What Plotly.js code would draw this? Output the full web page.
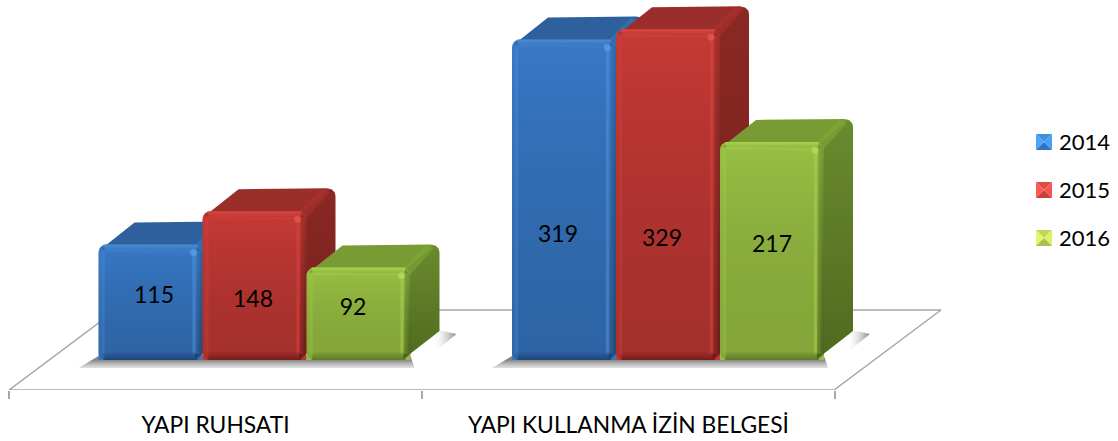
<!DOCTYPE html>
<html><head><meta charset="utf-8">
<script src="https://cdn.plot.ly/plotly-3.0.1.min.js"></script>
<style>html,body{margin:0;padding:0;background:#fff}</style></head>
<body><div id="chart" style="width:1118px;height:441px"></div>
<script>
// ---- data ----
const categories = ["YAPI RUHSATI", "YAPI KULLANMA İZİN BELGESİ"];
const years = ["2014", "2015", "2016"];
const values2014 = [115, 319];
const values2015 = [148, 329];
const values2016 = [92, 217];

// ---- styling / layout constants ----
const seriesValues = [values2014, values2015, values2016];
const W = 1118, H = 441, FLOOR_PY = 390, BASE_PY = 360;
const SX = 413, SY = 1.005, X0 = 9;
const BAR_W = 104, DX = 29, DY = 23, R = 8;
const FIRST_BAR_PX = [98.5, 512];
const labelPx = [[[154,297],[558,236]],[[253,301],[662,240]],[[353,309],[772,246]]];
const C = [
 {base:'#3675c1', hiT:'rgba(80,150,228,0.8)', hiS:'rgba(80,150,228,0.55)', lo:'rgba(22,55,100,0.7)', top:'#2e609d', band:'rgba(60,120,190,0.55)', side0:'#2d5f9b', side1:'#254f82', spot:'#6fb4f7', gt:'rgba(60,130,215,0.25)', gb:'rgba(0,0,0,0.14)'},
 {base:'#c03833', hiT:'rgba(235,72,68,0.8)', hiS:'rgba(220,68,64,0.55)', lo:'rgba(95,18,16,0.65)', top:'#9a2e2a', band:'rgba(175,50,46,0.55)', side0:'#8a2824', side1:'#76201c', spot:'#f06a64', gt:'rgba(215,62,58,0.25)', gb:'rgba(0,0,0,0.14)'},
 {base:'#96bd42', hiT:'rgba(175,220,80,0.85)', hiS:'rgba(165,210,75,0.6)', lo:'rgba(70,100,25,0.65)', top:'#789b34', band:'rgba(130,170,58,0.55)', side0:'#6a8b2e', side1:'#4f6a20', spot:'#c6ee6a', gt:'rgba(160,200,72,0.25)', gb:'rgba(0,0,0,0.12)'}
];
const swatch = [
 {t:'#3f8ee0', l:'#4ea4fa', r:'#48a0f5', b:'#2f74c4'},
 {t:'#e04b46', l:'#ff5a54', r:'#f5544e', b:'#c9403b'},
 {t:'#bcd858', l:'#e4f56c', r:'#dff068', b:'#a6c24a'}
];
const clear = c => c.replace(/,[^,]*\)$/, ',0)');

// pixel <-> data helpers, all marks pass through the axes
const ux = p => (p - X0) / SX;
const vy = p => (BASE_PY - p) / SY;
const poly = pts => ({x: pts.map(p => ux(p[0])), y: pts.map(p => vy(p[1]))});
function arc(cx, cy, r, a0, a1) {
  const out = [];
  for (let i = 0; i <= 6; i++) { const a = (a0 + (a1 - a0) * i / 6) * Math.PI / 180;
    out.push([cx + r * Math.cos(a), cy - r * Math.sin(a)]); }
  return out;
}
function roundRect(l, t, r, b, c) {
  return [].concat(arc(r-c,t+c,c,90,0), arc(r-c,b-c,c,0,-90), arc(l+c,b-c,c,-90,-180), arc(l+c,t+c,c,180,90));
}
function fillTrace(pts, axis, color, grad) {
  const d = poly(pts.concat([pts[0]]));
  const t = {type:'scatter', mode:'lines', x:d.x, y:d.y, xaxis:axis[0], yaxis:axis[1],
    line:{width:0}, fill:'toself', hoverinfo:'skip', showlegend:false};
  if (grad) t.fillgradient = grad; else t.fillcolor = color;
  return t;
}
const vGrad = (pyA, cA, pyB, cB) => ({type:'vertical', start:vy(pyB), stop:vy(pyA), colorscale:[[0,cB],[1,cA]]});
// the horizontal fill gradient runs from the stop colour at start to the first colour at stop
const hGrad = (pxA, cA, pxB, cB) => ({type:'horizontal', start:ux(pxA), stop:ux(pxB), colorscale:[[0,cB],[1,cA]]});

const traces = [];
const base = ['x','y'];
// floor
const fl = poly([[X0,FLOOR_PY],[834,FLOOR_PY],[941,310],[116,310],[X0,FLOOR_PY]]);
traces.push({type:'scatter', mode:'lines', x:fl.x, y:fl.y, line:{color:'#a6a6a6', width:1.5},
  hoverinfo:'skip', showlegend:false, cliponaxis:false});
// soft shadows on the floor
FIRST_BAR_PX.forEach(l0 => {
  const r0 = l0 + 3 * BAR_W;
  traces.push(fillTrace([[l0-20,BASE_PY+8],[l0,BASE_PY-4],[r0,BASE_PY-4],[r0+4,BASE_PY+8]], base, null,
    vGrad(BASE_PY, 'rgba(125,125,125,0.95)', BASE_PY+9, 'rgba(205,205,205,0.45)')));
  traces.push(fillTrace([[r0-6,BASE_PY+8],[r0+4,BASE_PY+8],[r0+46,BASE_PY-26],[r0+28,BASE_PY-30]], base, null,
    hGrad(r0+24, 'rgba(120,120,120,0.9)', r0+46, 'rgba(235,235,235,0)')));
});

// bars, one overlaid subplot per year so that later years sit in front
seriesValues.forEach((vals, s) => {
  const n = s + 2, ax = ['x'+n, 'y'+n], c = C[s];
  const lefts = vals.map((v, i) => FIRST_BAR_PX[i] + s * BAR_W);
  traces.push({type:'bar', name:years[s], x:lefts.map(l => ux(l + BAR_W/2)), y:vals,
    width:BAR_W/SX, xaxis:ax[0], yaxis:ax[1], customdata:categories,
    hovertemplate:'%{customdata}<br>'+years[s]+': %{y}<extra></extra>',
    marker:{color:c.base, cornerradius:R, line:{width:0}}});
  vals.forEach((v, i) => {
    const L = lefts[i], Rt = L + BAR_W, T = BASE_PY - v * SY, B = BASE_PY;
    // top face
    traces.push(fillTrace(
      [[L+2,T+5],[L+DX+7,T-DY+1]].concat(arc(Rt+DX-9,T-DY+9,9,90,30),[[Rt+DX-4,T+6],[Rt-4,T+6]]),
      ax, c.top));
    // side face
    traces.push(fillTrace(
      [[Rt-6,T+3],[Rt+DX-8,T-DY+3]].concat(arc(Rt+DX-8,T-DY+8,8,60,0),[[Rt+DX,B-29],[Rt-7,B-1]]),
      ax, null, vGrad(T-DY, c.side0, B, c.side1)));
    // rounded edge running back from the front corner
    traces.push(fillTrace([[Rt-8,T+1],[Rt+DX-14,T-DY+1],[Rt+DX-6,T-DY+4],[Rt,T+7]], ax, c.band));
    // front shading
    traces.push(fillTrace(roundRect(L,T,Rt,B,R), ax, null, vGrad(T, c.gt, B, c.gb)));
    traces.push(fillTrace([[L+5,T],[Rt-5,T],[Rt-7,T+9],[L+7,T+9]], ax, null, vGrad(T, c.hiT, T+9, clear(c.hiT))));
    traces.push(fillTrace([[Rt,T+5],[Rt,B-5],[Rt-10,B-7],[Rt-10,T+8]], ax, null, hGrad(Rt-10, clear(c.hiS), Rt, c.hiS)));
    traces.push(fillTrace([[L,T+5],[L,B-5],[L+6,B-7],[L+6,T+7]], ax, null, hGrad(L, clear(c.hiS).replace(',0)',',0.35)'), L+6, clear(c.hiS))));
    traces.push(fillTrace([[L+5,B],[Rt-5,B],[Rt-7,B-9],[L+7,B-9]], ax, null, vGrad(B-9, clear(c.lo), B, c.lo)));
    traces.push({type:'scatter', mode:'markers', x:[ux(Rt-9)], y:[vy(T+8)], xaxis:ax[0], yaxis:ax[1],
      marker:{size:7, color:c.spot, opacity:0.45, line:{width:0}}, hoverinfo:'skip', showlegend:false});
  });
  // value labels
  traces.push({type:'scatter', mode:'text', x:labelPx[s].map(p => ux(p[0])), y:labelPx[s].map(p => vy(p[1])),
    text:vals.map(String), textposition:'middle center', textfont:{family:'Lato', size:23, color:'#000'},
    xaxis:ax[0], yaxis:ax[1], hoverinfo:'skip', showlegend:false});
});

const xr = [ux(0), ux(W)], yr = [vy(FLOOR_PY), vy(0)];
const hidden = o => ({range:o, visible:false, fixedrange:true});
const layout = {
  width:W, height:H, margin:{l:0,r:0,t:0,b:H-FLOOR_PY}, paper_bgcolor:'#fff', plot_bgcolor:'rgba(0,0,0,0)',
  showlegend:false, hovermode:'closest', font:{family:'Lato', color:'#000'},
  xaxis:{range:xr, fixedrange:true, showgrid:false, zeroline:false, showline:false, tickmode:'array',
    tickvals:[0.5,1.5], ticktext:categories, ticks:'', ticklabelstandoff:19, tickfont:{family:'Lato', size:22.8, color:'#000'},
    minor:{tickmode:'array', tickvals:[0,1,2], ticks:'outside', ticklen:8, tickcolor:'#a6a6a6', tickwidth:1.5, showgrid:false}},
  yaxis:{range:yr, visible:false, fixedrange:true},
  annotations:[], shapes:[]
};
[2,3,4].forEach(n => {
  layout['xaxis'+n] = Object.assign(hidden(xr), {overlaying:'x', anchor:'y'+n});
  layout['yaxis'+n] = Object.assign(hidden(yr), {overlaying:'y', anchor:'x'+n});
});
// legend
const LEG_X = 1036, LEG_S = 16, LEG_Y = [134, 182, 230];
years.forEach((yr_, s) => {
  const x0 = LEG_X, x1 = LEG_X + LEG_S, y0 = LEG_Y[s], y1 = y0 + LEG_S, cx = (x0+x1)/2, cy = (y0+y1)/2;
  const tri = (pts, col) => layout.shapes.push({type:'path', layer:'above', xref:'x', yref:'y', fillcolor:col, line:{width:0},
    path:'M'+pts.map(p => ux(p[0])+','+vy(p[1])).join('L')+'Z'});
  tri([[x0,y0],[x1,y0],[cx,cy]], swatch[s].t);
  tri([[x0,y0],[x0,y1],[cx,cy]], swatch[s].l);
  tri([[x1,y0],[x1,y1],[cx,cy]], swatch[s].r);
  tri([[x0,y1],[x1,y1],[cx,cy]], swatch[s].b);
  layout.annotations.push({xref:'x', yref:'y', x:ux(1059), y:vy(cy-1), xanchor:'left', yanchor:'middle', showarrow:false,
    text:yr_, font:{family:'Lato', size:22, color:'#000'}, xshift:-2});
});
Plotly.newPlot('chart', traces, layout, {displayModeBar:false, responsive:false});
</script></body></html>
